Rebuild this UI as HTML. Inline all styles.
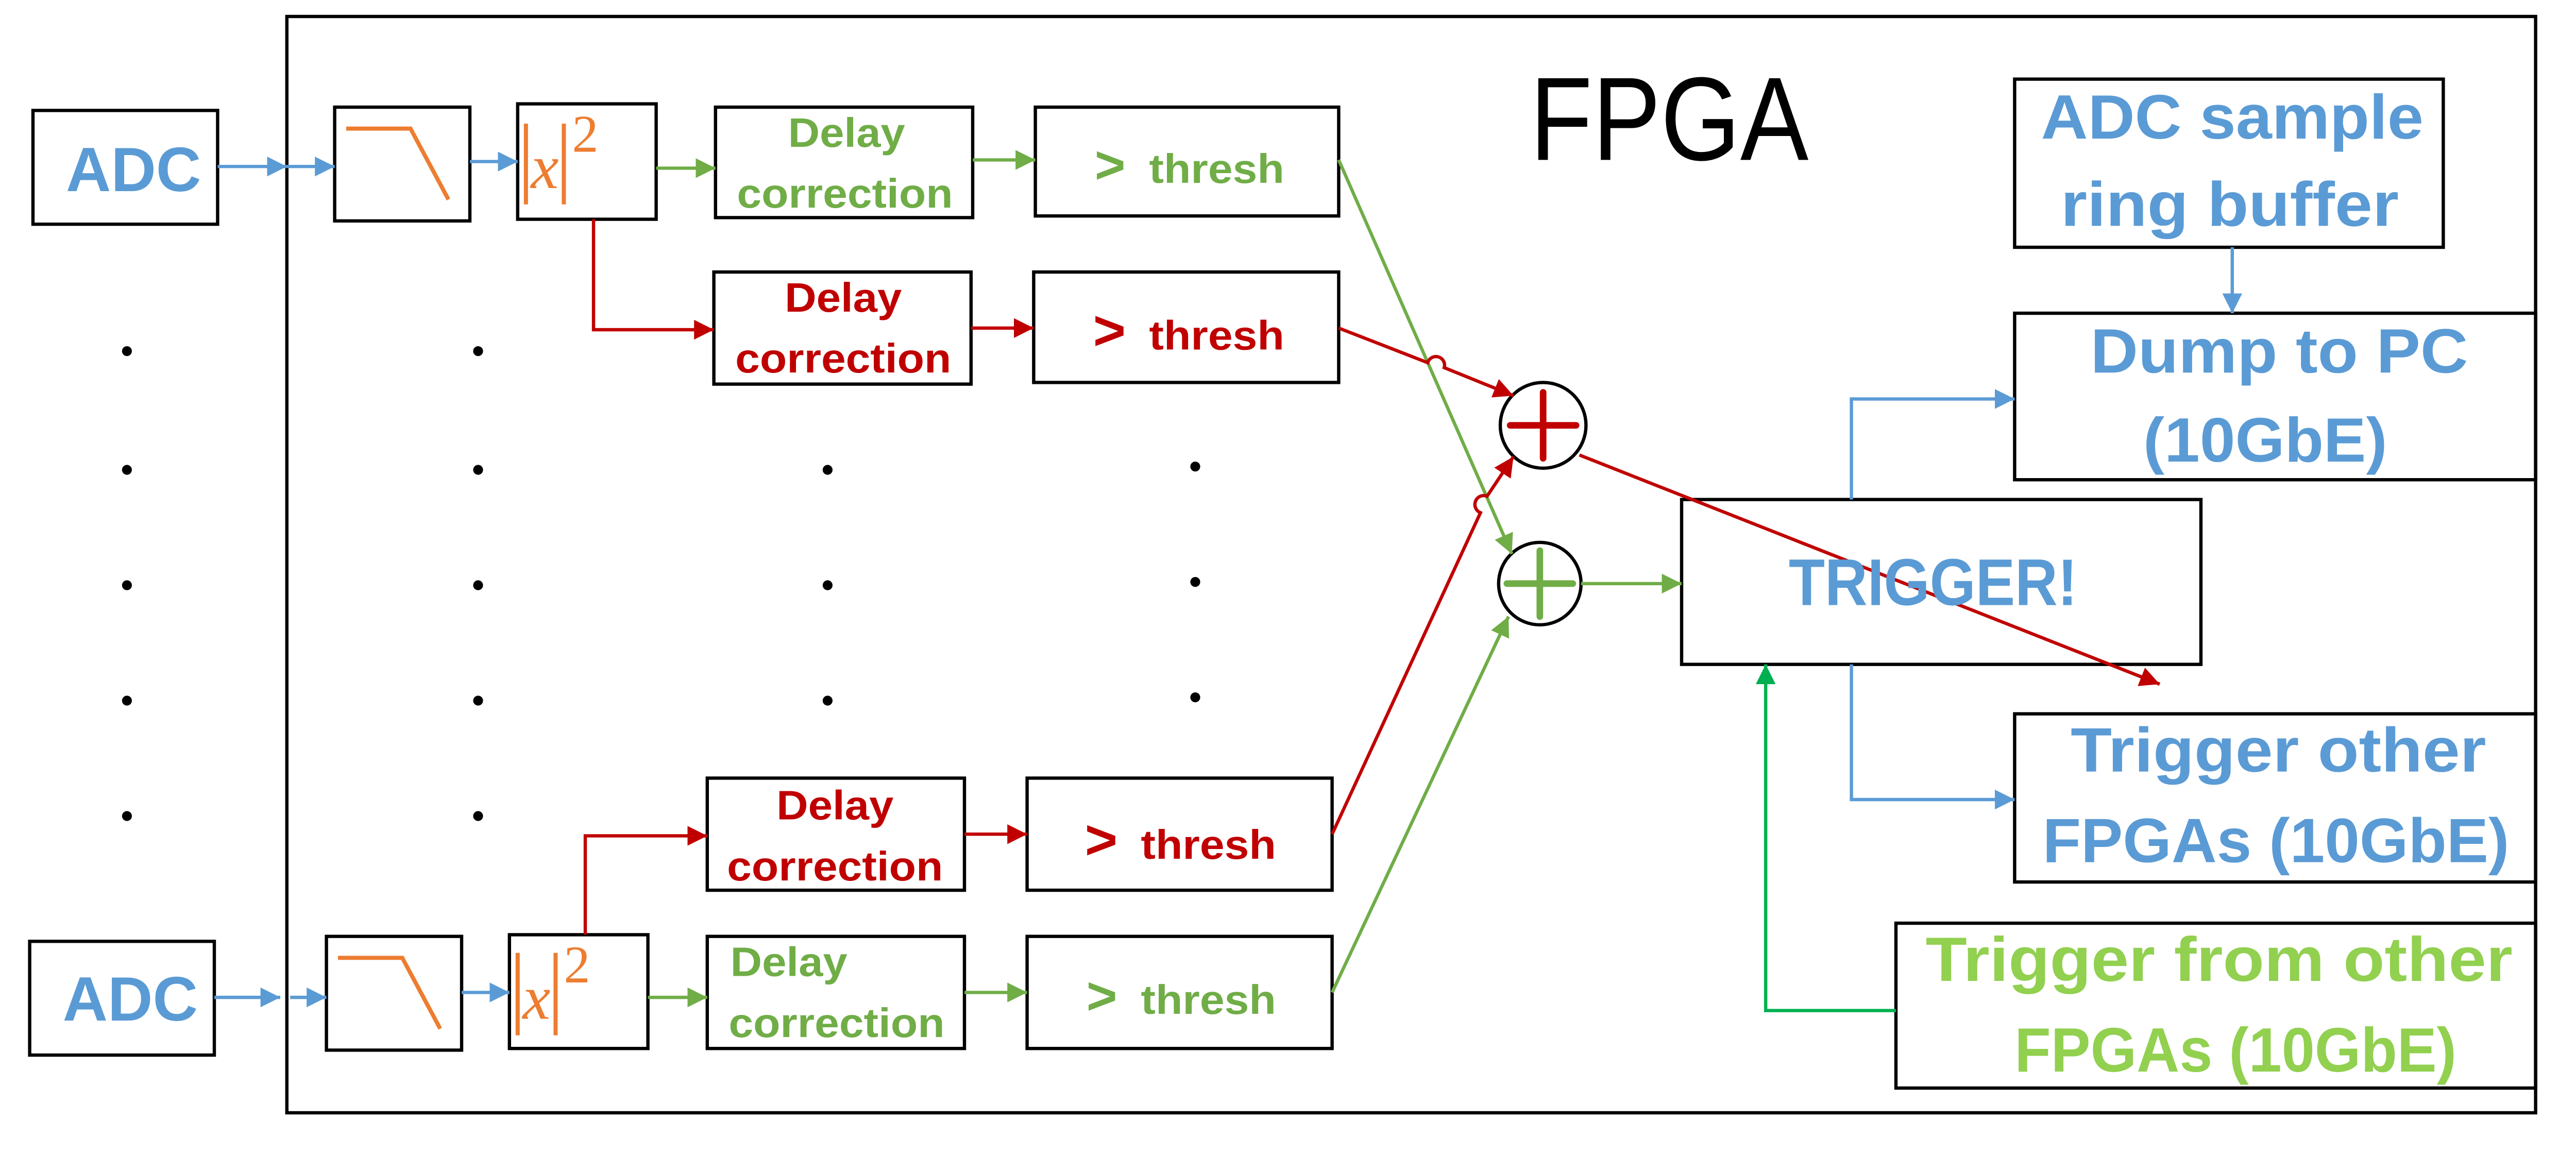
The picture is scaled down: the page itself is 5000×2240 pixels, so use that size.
<!DOCTYPE html>
<html><head><meta charset="utf-8"><style>
html,body{margin:0;padding:0;background:#fff;}
svg{display:block;}
text{font-family:"Liberation Sans",sans-serif;font-weight:bold;}
</style></head><body>
<svg width="5000" height="2240" viewBox="0 0 1562.5 700" xmlns="http://www.w3.org/2000/svg">
<defs>
<marker id="ag" viewBox="0 0 10 10" refX="10" refY="5" markerWidth="12" markerHeight="12" orient="auto" markerUnits="userSpaceOnUse"><path d="M0,0L10,5L0,10z" fill="#70ad47"/></marker>
<marker id="ar" viewBox="0 0 10 10" refX="10" refY="5" markerWidth="12" markerHeight="12" orient="auto" markerUnits="userSpaceOnUse"><path d="M0,0L10,5L0,10z" fill="#c00000"/></marker>
<marker id="ab2" viewBox="0 0 10 10" refX="10" refY="5" markerWidth="12" markerHeight="12" orient="auto" markerUnits="userSpaceOnUse"><path d="M0,0L10,5L0,10z" fill="#5b9bd5"/></marker>
<marker id="ad" viewBox="0 0 10 10" refX="10" refY="5" markerWidth="12" markerHeight="12" orient="auto" markerUnits="userSpaceOnUse"><path d="M0,0L10,5L0,10z" fill="#00b050"/></marker>
</defs>
<g fill="none" stroke="#000" stroke-width="2">
<rect x="174" y="10" width="1364" height="665"/>
<rect x="20" y="67" width="112" height="69"/>
<rect x="18" y="571" width="112" height="69"/>
<rect x="203" y="65" width="82" height="69"/>
<rect x="198" y="568" width="82" height="69"/>
<rect x="314" y="63" width="84" height="70"/>
<rect x="309" y="567" width="84" height="69"/>
<rect x="434" y="65" width="156" height="67"/>
<rect x="433" y="165" width="156" height="68"/>
<rect x="429" y="472" width="156" height="68"/>
<rect x="429" y="568" width="156" height="68"/>
<rect x="628" y="65" width="184" height="66"/>
<rect x="627" y="165" width="185" height="67"/>
<rect x="623" y="472" width="185" height="68"/>
<rect x="623" y="568" width="185" height="68"/>
<rect x="1020" y="303" width="315" height="100"/>
<rect x="1222" y="48" width="260" height="102"/>
<rect x="1222" y="190" width="316" height="101"/>
<rect x="1222" y="433" width="316" height="102"/>
<rect x="1150" y="560" width="388" height="100"/>
<circle cx="936" cy="258" r="26"/>
<circle cx="934" cy="354" r="25"/>
</g>
<g stroke-linecap="round" stroke-width="4">
<path d="M936 238V278M916 258H956" stroke="#c00000"/>
<path d="M934 334V374M914 354H954" stroke="#70ad47"/>
</g>
<g fill="none" stroke="#ed7d31" stroke-width="2.5">
<polyline points="210,78 249,78 272,121"/>
<polyline points="205,581 244,581 267,624"/>
<path d="M319 75V124M342 75V124M314 578V628M337 578V628"/>
</g>
<g fill="#ed7d31">
<text x="322" y="114" font-size="38" font-style="italic" style="font-family:'Liberation Serif',serif;font-weight:normal">x</text>
<text x="347" y="92" font-size="32" style="font-family:'Liberation Serif',serif;font-weight:normal">2</text>
<text x="317" y="618" font-size="38" font-style="italic" style="font-family:'Liberation Serif',serif;font-weight:normal">x</text>
<text x="342" y="596" font-size="32" style="font-family:'Liberation Serif',serif;font-weight:normal">2</text>
</g>
<g fill="none" stroke-width="2">
<path d="M132 101H174" stroke="#5b9bd5" marker-end="url(#ab2)"/>
<path d="M174 101H203" stroke="#5b9bd5" marker-end="url(#ab2)"/>
<path d="M285 98H314" stroke="#5b9bd5" marker-end="url(#ab2)"/>
<path d="M130 605H170" stroke="#5b9bd5" marker-end="url(#ab2)"/>
<path d="M176 605H198" stroke="#5b9bd5" marker-end="url(#ab2)"/>
<path d="M280 602H309" stroke="#5b9bd5" marker-end="url(#ab2)"/>
<path d="M398 102H434" stroke="#70ad47" marker-end="url(#ag)"/>
<path d="M590 97H628" stroke="#70ad47" marker-end="url(#ag)"/>
<path d="M393 605H429" stroke="#70ad47" marker-end="url(#ag)"/>
<path d="M585 602H623" stroke="#70ad47" marker-end="url(#ag)"/>
<path d="M360 133V200H433" stroke="#c00000" marker-end="url(#ar)"/>
<path d="M589 199H627" stroke="#c00000" marker-end="url(#ar)"/>
<path d="M355 567V507H429" stroke="#c00000" marker-end="url(#ar)"/>
<path d="M585 506H623" stroke="#c00000" marker-end="url(#ar)"/>
<path d="M812 97L917 336" stroke="#70ad47" marker-end="url(#ag)"/>
<path d="M808 602L915 374" stroke="#70ad47" marker-end="url(#ag)"/>
<path d="M959 354H1020" stroke="#70ad47" marker-end="url(#ag)"/>
<path d="M812 199L866 220A5 5 0 0 1 876 223L918 240" stroke="#c00000" marker-end="url(#ar)"/>
<path d="M808 506L898 311A5 5 0 0 1 902 301L918 277" stroke="#c00000" marker-end="url(#ar)"/>
<path d="M958 276L1310 415" stroke="#c00000" marker-end="url(#ar)"/>
<path d="M1123 303V242H1222" stroke="#5b9bd5" marker-end="url(#ab2)"/>
<path d="M1123 403V485H1222" stroke="#5b9bd5" marker-end="url(#ab2)"/>
<path d="M1354 150V190" stroke="#5b9bd5" marker-end="url(#ab2)"/>
<path d="M1150 613H1071V403" stroke="#00b050" marker-end="url(#ad)"/>
</g>
<g fill="#000">
<circle cx="77" cy="213" r="3"/><circle cx="77" cy="285" r="3"/><circle cx="77" cy="355" r="3"/><circle cx="77" cy="425" r="3"/><circle cx="77" cy="495" r="3"/>
<circle cx="290" cy="213" r="3"/><circle cx="290" cy="285" r="3"/><circle cx="290" cy="355" r="3"/><circle cx="290" cy="425" r="3"/><circle cx="290" cy="495" r="3"/>
<circle cx="502" cy="285" r="3"/><circle cx="502" cy="355" r="3"/><circle cx="502" cy="425" r="3"/>
<circle cx="725" cy="283" r="3"/><circle cx="725" cy="353" r="3"/><circle cx="725" cy="423" r="3"/>
</g>
<text x="928" y="97" font-size="72" textLength="169" lengthAdjust="spacingAndGlyphs" style="font-weight:normal" fill="#000">FPGA</text>
<g fill="#5b9bd5">
<text x="40" y="116" font-size="38" textLength="82" lengthAdjust="spacingAndGlyphs">ADC</text>
<text x="38" y="619" font-size="38" textLength="82" lengthAdjust="spacingAndGlyphs">ADC</text>
<text x="1238" y="84" font-size="38" textLength="232" lengthAdjust="spacingAndGlyphs">ADC sample</text>
<text x="1250" y="137" font-size="38" textLength="205" lengthAdjust="spacingAndGlyphs">ring buffer</text>
<text x="1268" y="226" font-size="38" textLength="229" lengthAdjust="spacingAndGlyphs">Dump to PC</text>
<text x="1300" y="280" font-size="38" textLength="148" lengthAdjust="spacingAndGlyphs">(10GbE)</text>
<text x="1256" y="468" font-size="38" textLength="252" lengthAdjust="spacingAndGlyphs">Trigger other</text>
<text x="1239" y="523" font-size="38" textLength="283" lengthAdjust="spacingAndGlyphs">FPGAs (10GbE)</text>
<text x="1085" y="367" font-size="40" textLength="175" lengthAdjust="spacingAndGlyphs">TRIGGER!</text>
</g>
<g fill="#92d050">
<text x="1168" y="595" font-size="38" textLength="356" lengthAdjust="spacingAndGlyphs">Trigger from other</text>
<text x="1222" y="650" font-size="38" textLength="268" lengthAdjust="spacingAndGlyphs">FPGAs (10GbE)</text>
</g>
<g fill="#70ad47" font-size="25">
<text x="478" y="89" textLength="71" lengthAdjust="spacingAndGlyphs">Delay</text>
<text x="447" y="126" textLength="131" lengthAdjust="spacingAndGlyphs">correction</text>
<text x="443" y="592" textLength="71" lengthAdjust="spacingAndGlyphs">Delay</text>
<text x="442" y="629" textLength="131" lengthAdjust="spacingAndGlyphs">correction</text>
<text x="664" y="111" font-size="32">&gt;</text>
<text x="697" y="111" textLength="82" lengthAdjust="spacingAndGlyphs">thresh</text>
<text x="659" y="615" font-size="32">&gt;</text>
<text x="692" y="615" textLength="82" lengthAdjust="spacingAndGlyphs">thresh</text>
</g>
<g fill="#c00000" font-size="25">
<text x="476" y="189" textLength="71" lengthAdjust="spacingAndGlyphs">Delay</text>
<text x="446" y="226" textLength="131" lengthAdjust="spacingAndGlyphs">correction</text>
<text x="471" y="497" textLength="71" lengthAdjust="spacingAndGlyphs">Delay</text>
<text x="441" y="534" textLength="131" lengthAdjust="spacingAndGlyphs">correction</text>
<text x="663" y="212" font-size="34">&gt;</text>
<text x="697" y="212" textLength="82" lengthAdjust="spacingAndGlyphs">thresh</text>
<text x="658" y="521" font-size="34">&gt;</text>
<text x="692" y="521" textLength="82" lengthAdjust="spacingAndGlyphs">thresh</text>
</g>
</svg>
</body></html>
